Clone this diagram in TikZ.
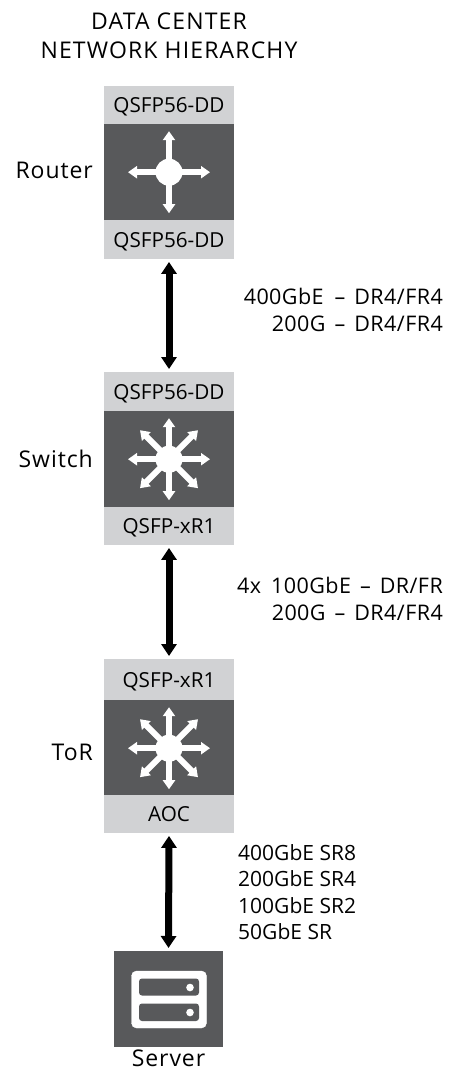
\documentclass[tikz,border=0pt]{standalone}
\usepackage{fontspec}
\setmainfont{Open Sans}
\usetikzlibrary{arrows.meta}
\definecolor{lightg}{HTML}{D1D2D4}
\definecolor{darkg}{HTML}{58595B}
\newcommand{\gap}{\hspace*{3pt}}
\tikzset{
  x=1pt,y=-1pt,
  lab/.style={font=\fontsize{23}{29}\selectfont\addfontfeature{LetterSpace=4},text=black,inner sep=0pt},
  note/.style={font=\fontsize{21.5}{27}\selectfont\addfontfeature{LetterSpace=2},text=black,inner sep=0pt},
  port/.style={fill=lightg,minimum width=130pt,inner sep=0pt,text depth=0pt,font=\fontsize{20.7}{24}\selectfont,text=black,anchor=north},
  core/.style={fill=darkg,minimum width=130pt,minimum height=96pt,inner sep=0pt,anchor=north},
  link/.style={line width=7pt,{Triangle[width=15pt,length=12pt]}-{Triangle[width=15pt,length=12pt]},shorten >=3pt,shorten <=2.5pt},
  ray/.style={white,line width=6pt,-{Triangle[width=12pt,length=9pt]}},
  hub/.style={circle,fill=white,minimum size=27pt,inner sep=0pt},
  multi/.style={note,align=right,anchor=north east}
}
\begin{document}
\begin{tikzpicture}
\useasboundingbox (0,0) rectangle (454,1071);
\node[lab,font=\fontsize{23}{29}\selectfont\addfontfeature{LetterSpace=5},align=center,anchor=north] (title) at (169,12.5) {DATA CENTER\\NETWORK HIERARCHY};
% Router
\node[port,minimum height=38pt] (r1) at (169,86) {QSFP56-DD};
\node[core] (rc) at (169,124) {};
\node[port,minimum height=39pt] (r2) at (169,220) {QSFP56-DD};
\node[hub] (rh) at (rc.center) {};
\foreach \a in {0,90,180,270} \draw[ray] (rc.center) -- ++(\a:41);
\node[lab,anchor=east] (rl) at (93,170) {Router};
% Switch
\node[port,minimum height=39pt] (s1) at (169,372) {QSFP56-DD};
\node[core] (sc) at (169,411) {};
\node[port,minimum height=38pt] (s2) at (169,507) {QSFP-xR1};
\node[hub] (sh) at (sc.center) {};
\foreach \a in {0,45,...,315} \draw[ray] (sc.center) -- ++(\a:41);
\node[lab,anchor=east] (sl) at (93,459) {Switch};
% ToR
\node[port,minimum height=41pt] (t1) at (169,659) {QSFP-xR1};
\node[core] (tc) at (169,700) {};
\node[port,minimum height=38pt] (t2) at (169,795) {AOC};
\node[hub] (th) at (tc.center) {};
\foreach \a in {0,45,...,315} \draw[ray] (tc.center) -- ++(\a:41);
\node[lab,anchor=east] (tl) at (93,752) {ToR};
% Server
\node[fill=darkg,minimum width=109pt,minimum height=96pt,inner sep=0pt,anchor=north] (srv) at (168.5,951) {};
\draw[white,fill=white,rounded corners=5pt] (131.5,971) rectangle (206.5,1028);
\fill[darkg,rounded corners=3pt] (139,978.5) rectangle (199,995.5);
\fill[darkg,rounded corners=3pt] (139,1003.5) rectangle (199,1021);
\fill[white] (190,987.5) circle (3.8);
\fill[white] (190,1012.5) circle (3.8);
\node[lab,anchor=base,text depth=0pt] (srvl) at (168.5,1066) {Server};
% Links
\draw[link] (r2.south) -- (s1.north);
\draw[link] (s2.south) -- (t1.north);
\draw[link] (t2.south) -- (srv.north);
% Labels
\node[multi] (l1) at (443,288) {400GbE\hspace*{5pt} – \gap{}DR4/FR4\\200G\gap{} – \gap{}DR4/FR4};
\node[multi] (l2) at (443,577) {4x\hspace*{4pt} 100GbE\gap{} – \gap{}DR/FR\\200G\gap{} – \gap{}DR4/FR4};
\node[note,font=\fontsize{21}{26.5}\selectfont,align=left,anchor=north west] (l3) at (238,844) {400GbE SR8\\200GbE SR4\\100GbE SR2\\50GbE SR};
\end{tikzpicture}
\end{document}
